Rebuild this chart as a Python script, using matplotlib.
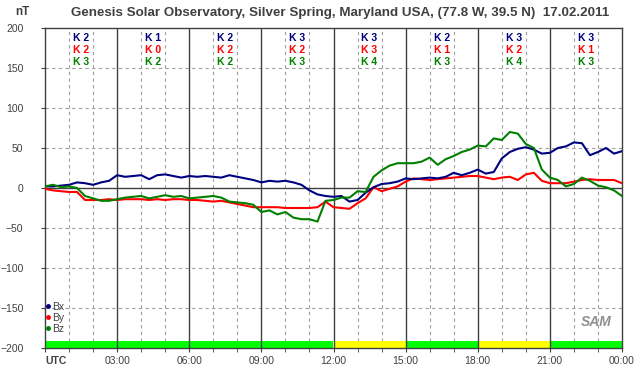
"""Genesis Solar Observatory magnetometer day plot (Bx, By, Bz, K-index)."""

import matplotlib

matplotlib.use("Agg")
import matplotlib.pyplot as plt
from matplotlib.lines import Line2D

plt.rcParams["font.family"] = ["Liberation Sans", "DejaVu Sans"]

# sample times in hours UTC, every 20 minutes
hours = [i / 3 for i in range(73)]

bx = [
    2, 2, 3, 4, 7, 6, 4, 7, 9, 16, 14, 15, 16, 11, 16, 17, 15, 13,
    15, 14, 15, 14, 13, 16, 14, 12, 10, 7, 9, 8, 9, 7, 4, -3, -8, -10,
    -11, -10, -17, -15, -6, 1, 5, 6, 8, 12, 11, 12, 13, 12, 14, 19, 16, 19,
    23, 18, 20, 37, 45, 49, 51, 48, 43, 44, 50, 52, 57, 56, 41, 45, 50, 43,
    46,
]
by = [
    -1, -3, -4, -5, -5, -15, -15, -15, -14, -15, -14, -14, -14, -15, -14, -15, -14, -14,
    -15, -15, -16, -17, -16, -18, -20, -22, -24, -24, -24, -24, -25, -25, -25, -25, -24, -17,
    -24, -25, -26, -19, -13, 1, -4, -1, 2, 8, 12, 11, 10, 11, 12, 13, 14, 15,
    15, 13, 11, 13, 14, 10, 17, 19, 9, 6, 6, 6, 8, 10, 11, 10, 10, 10,
    6,
]
bz = [
    2, 4, 1, 2, 0, -10, -13, -16, -16, -14, -12, -11, -10, -13, -11, -9, -11, -10,
    -13, -12, -11, -10, -12, -17, -18, -19, -21, -30, -28, -33, -30, -37, -39, -39, -42, -16,
    -15, -12, -12, -4, -5, 14, 22, 28, 31, 31, 31, 33, 38, 29, 36, 40, 45, 48,
    53, 52, 62, 60, 70, 68, 55, 50, 23, 13, 10, 2, 5, 13, 9, 3, 1, -3,
    -10,
]

# three-hour K indices per component and activity bar colours
k_x = [2, 1, 2, 3, 3, 2, 3, 3]
k_y = [2, 0, 2, 2, 3, 1, 2, 1]
k_z = [3, 2, 2, 3, 4, 3, 4, 3]
activity = ["#00ff00", "#00ff00", "#00ff00", "#00ff00",
            "#ffff00", "#00ff00", "#ffff00", "#00ff00"]
tick_labels = ["UTC", "03:00", "06:00", "09:00", "12:00", "15:00", "18:00", "21:00", "00:00"]

NAVY, RED, GREEN = "#000080", "#ff0000", "#008000"
DARK = "#404040"

fig = plt.figure(figsize=(6.42, 3.76), dpi=100)
ax = fig.add_axes([45 / 642, 28 / 376, 577 / 642, 320 / 376])
ax.set_xlim(0, 24)
ax.set_ylim(-200, 200)

# grid: dashed hourly / 50 nT, solid every 3 h and at zero
for h in range(1, 24):
    if h % 3:
        ax.axvline(h, color="#a0a0a0", lw=0.8, ls=(0, (3, 3)), zorder=1)
for v in (-150, -100, -50, 50, 100, 150):
    ax.axhline(v, color="#a0a0a0", lw=0.8, ls=(0, (3, 3)), zorder=1)

centers = [1.5 + 3 * i for i in range(8)]
ax.bar(centers, 9, bottom=-200, width=3, color=activity, lw=0, zorder=2)

for h in range(3, 24, 3):
    ax.axvline(h, color=DARK, lw=1.0, zorder=3)
ax.axhline(0, color=DARK, lw=1.0, zorder=3)

ax.plot(hours, bx, color=NAVY, lw=1.5, zorder=5)
ax.plot(hours, by, color=RED, lw=1.5, zorder=4)
ax.plot(hours, bz, color=GREEN, lw=1.5, zorder=6)

for c, a, b, d in zip(centers, k_x, k_y, k_z):
    for val, col, y in ((a, NAVY, 188), (b, RED, 172), (d, GREEN, 157)):
        ax.text(c, y, f"K {val}", color=col, fontsize=7.5, fontweight="bold",
                ha="center", va="center", zorder=7)

for s in ax.spines.values():
    s.set_color(DARK)
    s.set_linewidth(1.0)

ax.set_yticks(range(-200, 201, 50))
ax.set_xticks(range(0, 25, 3))
ax.set_xticklabels(tick_labels)
ax.set_xticks(range(25), minor=True)
ax.tick_params(axis="y", length=3, pad=12.5, labelsize=7.5, colors=DARK)
ax.tick_params(axis="x", which="both", length=3, pad=3, labelsize=7.5, colors=DARK)
utc = ax.get_xticklabels()[0]
utc.set_ha("left")
utc.set_fontweight("bold")

handles = [Line2D([], [], color=c, marker="o", ms=2.5, ls="none") for c in (NAVY, RED, GREEN)]
ax.legend(handles, ["Bx", "By", "Bz"], loc="upper left", bbox_to_anchor=(0.0, 0.145),
          frameon=False, fontsize=7.5, handlelength=0.5, handletextpad=0.2,
          labelspacing=0.1, borderpad=0, borderaxespad=0, labelcolor=DARK)

ax.text(0.955, 0.08, "SAM", transform=ax.transAxes, fontsize=10, fontstyle="italic",
        fontweight="bold", color="#909090", ha="center", va="center", zorder=7)

fig.text(340 / 642, 1 - 13 / 376, "Genesis Solar Observatory, Silver Spring, Maryland USA, "
         "(77.8 W, 39.5 N)  17.02.2011", ha="center", va="center", fontsize=9.6,
         fontweight="bold", color=DARK)
fig.text(22 / 642, 1 - 12 / 376, "nT", ha="center", va="center", fontsize=8.5,
         fontweight="bold", color=DARK)

fig.savefig("out.png", dpi=100)
